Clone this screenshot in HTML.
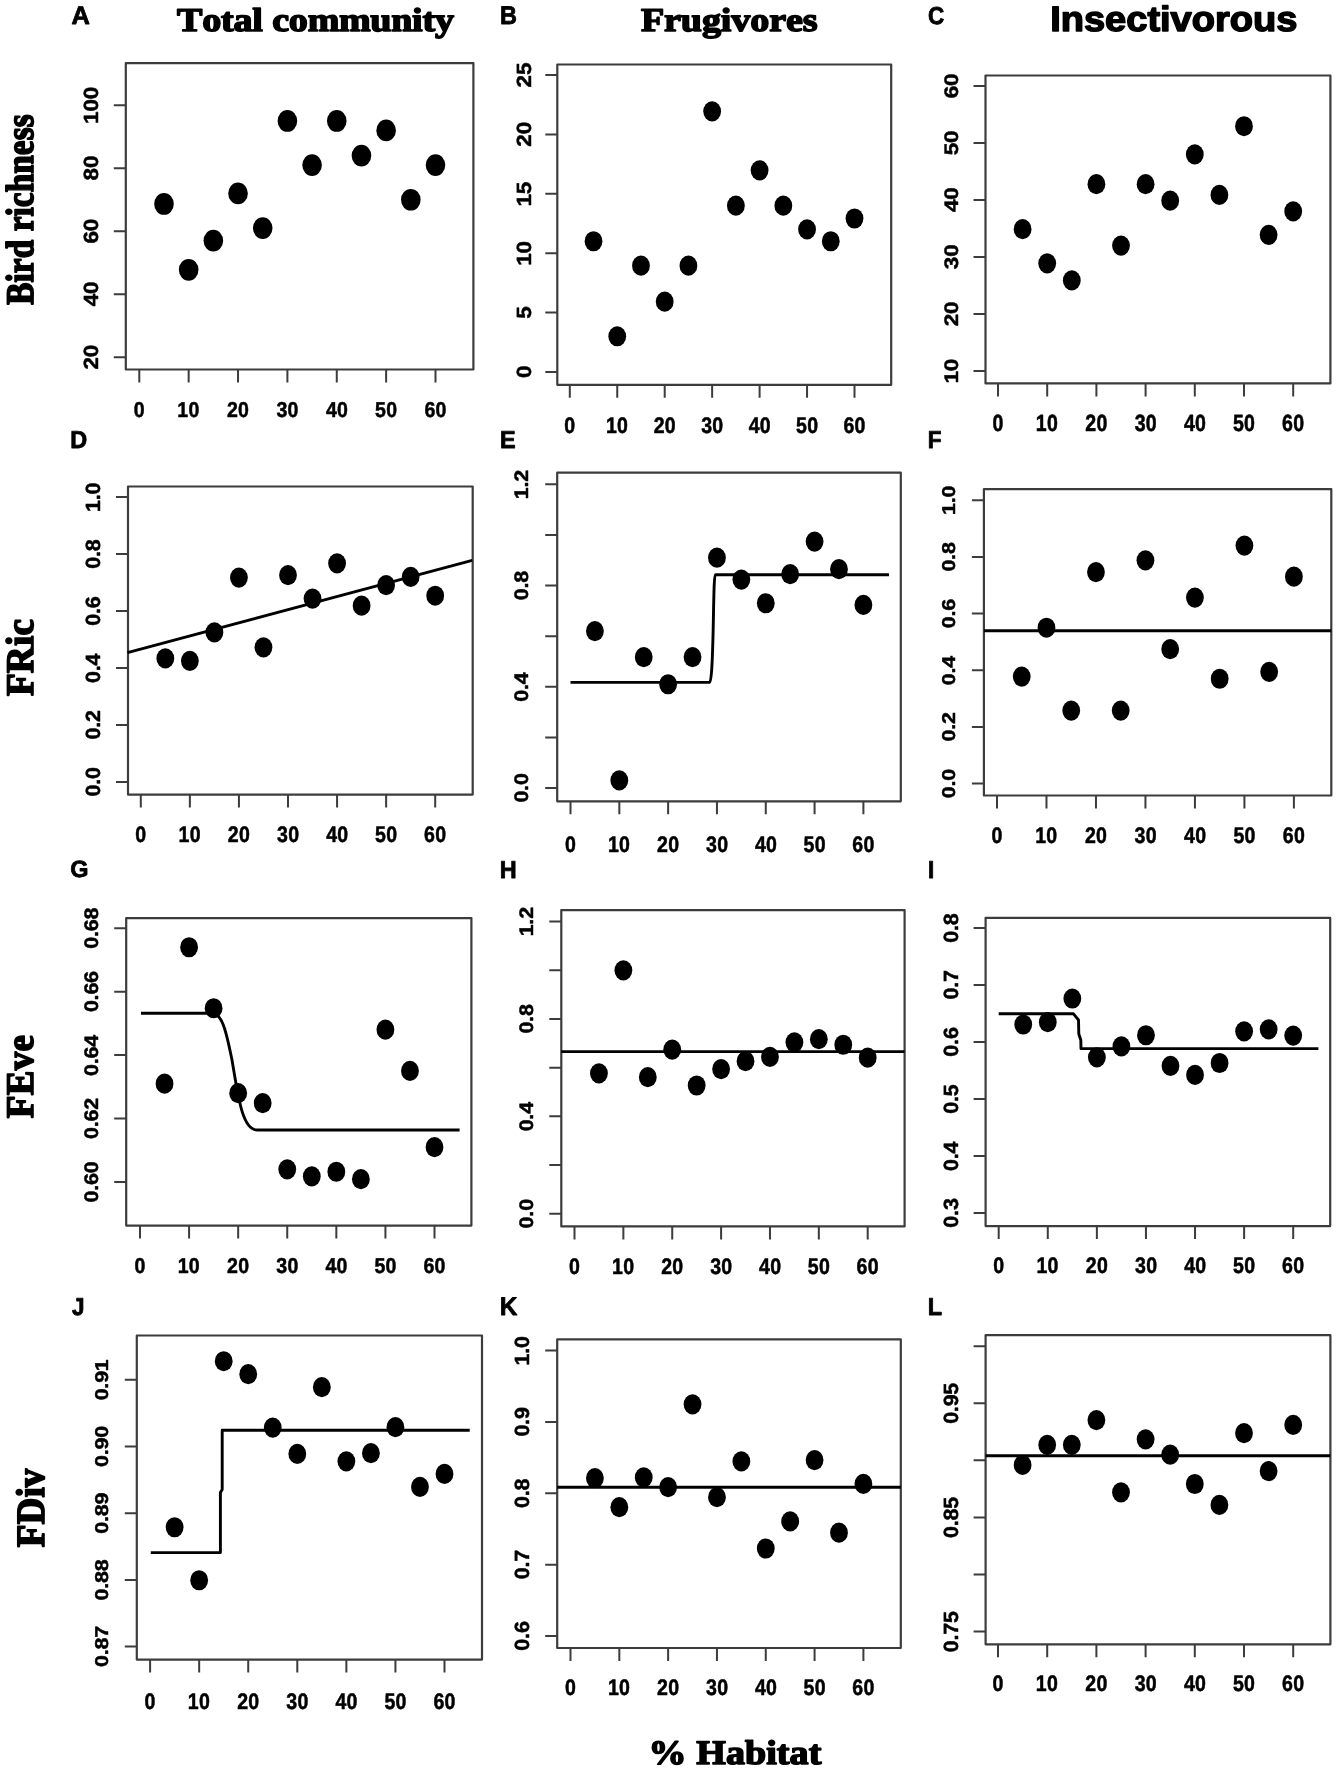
<!DOCTYPE html>
<html><head><meta charset="utf-8"><title>Figure</title>
<style>
html,body{margin:0;padding:0;background:#fff;overflow:hidden;}
svg{display:block;will-change:transform;}
.sansb{font-family:"Liberation Sans",sans-serif;font-weight:bold;font-size:1000px;fill:#000;font-kerning:none;text-rendering:geometricPrecision;}
.serifb{font-family:"Liberation Serif",serif;font-weight:bold;font-size:1000px;fill:#000;font-kerning:none;text-rendering:geometricPrecision;}
.box{fill:none;stroke:#3c3c3c;stroke-width:2.2;stroke-linejoin:round;}
.tk{fill:none;stroke:#3c3c3c;stroke-width:2;}
.ln{fill:none;stroke:#000;stroke-width:2.9;stroke-linejoin:round;}
ellipse{fill:#000;}
</style></head>
<body>
<svg width="1337" height="1772" viewBox="0 0 1337 1772">
<rect width="1337" height="1772" fill="#fff"/>
<rect x="125.8" y="63.1" width="347.60" height="306.40" class="box"/>
<text transform="matrix(0.02000 0 0 0.02189 133.75 416.54)" class="sansb" stroke="#000" stroke-width="23.90" stroke-linejoin="round">0</text>
<text transform="matrix(0.02000 0 0 0.02189 177.32 416.54)" class="sansb" stroke="#000" stroke-width="23.90" stroke-linejoin="round">10</text>
<text transform="matrix(0.02000 0 0 0.02189 226.97 416.54)" class="sansb" stroke="#000" stroke-width="23.90" stroke-linejoin="round">20</text>
<text transform="matrix(0.02000 0 0 0.02189 276.46 416.54)" class="sansb" stroke="#000" stroke-width="23.90" stroke-linejoin="round">30</text>
<text transform="matrix(0.02000 0 0 0.02189 325.90 416.54)" class="sansb" stroke="#000" stroke-width="23.90" stroke-linejoin="round">40</text>
<text transform="matrix(0.02000 0 0 0.02189 375.11 416.54)" class="sansb" stroke="#000" stroke-width="23.90" stroke-linejoin="round">50</text>
<text transform="matrix(0.02000 0 0 0.02189 424.42 416.54)" class="sansb" stroke="#000" stroke-width="23.90" stroke-linejoin="round">60</text>
<text transform="matrix(0 -0.02220 0.02006 0 97.85 369.58)" class="sansb" stroke="#000" stroke-width="23.70" stroke-linejoin="round">20</text>
<text transform="matrix(0 -0.02220 0.02006 0 97.85 306.33)" class="sansb" stroke="#000" stroke-width="23.70" stroke-linejoin="round">40</text>
<text transform="matrix(0 -0.02220 0.02006 0 97.85 243.55)" class="sansb" stroke="#000" stroke-width="23.70" stroke-linejoin="round">60</text>
<text transform="matrix(0 -0.02220 0.02006 0 97.85 180.47)" class="sansb" stroke="#000" stroke-width="23.70" stroke-linejoin="round">80</text>
<text transform="matrix(0 -0.02220 0.02006 0 97.85 123.96)" class="sansb" stroke="#000" stroke-width="23.70" stroke-linejoin="round">100</text>
<path d="M139.30,369.50V382.50 M188.67,369.50V382.50 M238.03,369.50V382.50 M287.40,369.50V382.50 M336.77,369.50V382.50 M386.13,369.50V382.50 M435.50,369.50V382.50 M113.80,357.30H125.80 M113.80,294.28H125.80 M113.80,231.25H125.80 M113.80,168.22H125.80 M113.80,105.20H125.80" class="tk"/>
<ellipse cx="163.98" cy="203.97" rx="9.8" ry="10.85"/>
<ellipse cx="188.67" cy="269.78" rx="9.8" ry="10.85"/>
<ellipse cx="213.35" cy="240.70" rx="9.8" ry="10.85"/>
<ellipse cx="238.03" cy="193.44" rx="9.8" ry="10.85"/>
<ellipse cx="262.72" cy="228.10" rx="9.8" ry="10.85"/>
<ellipse cx="287.40" cy="120.96" rx="9.8" ry="10.85"/>
<ellipse cx="312.08" cy="165.07" rx="9.8" ry="10.85"/>
<ellipse cx="336.77" cy="120.96" rx="9.8" ry="10.85"/>
<ellipse cx="361.45" cy="155.62" rx="9.8" ry="10.85"/>
<ellipse cx="386.13" cy="130.41" rx="9.8" ry="10.85"/>
<ellipse cx="410.82" cy="199.74" rx="9.8" ry="10.85"/>
<ellipse cx="435.50" cy="165.07" rx="9.8" ry="10.85"/>
<text transform="matrix(0.02504 0 0 0.02500 71.48 23.60)" class="sansb" stroke="#000" stroke-width="31.97" stroke-linejoin="round">A</text>
<rect x="557.3" y="64.5" width="333.90" height="320.30" class="box"/>
<text transform="matrix(0.02000 0 0 0.02203 564.25 433.43)" class="sansb" stroke="#000" stroke-width="23.82" stroke-linejoin="round">0</text>
<text transform="matrix(0.02000 0 0 0.02203 605.91 433.43)" class="sansb" stroke="#000" stroke-width="23.82" stroke-linejoin="round">10</text>
<text transform="matrix(0.02000 0 0 0.02203 653.64 433.43)" class="sansb" stroke="#000" stroke-width="23.82" stroke-linejoin="round">20</text>
<text transform="matrix(0.02000 0 0 0.02203 701.21 433.43)" class="sansb" stroke="#000" stroke-width="23.82" stroke-linejoin="round">30</text>
<text transform="matrix(0.02000 0 0 0.02203 748.74 433.43)" class="sansb" stroke="#000" stroke-width="23.82" stroke-linejoin="round">40</text>
<text transform="matrix(0.02000 0 0 0.02203 796.03 433.43)" class="sansb" stroke="#000" stroke-width="23.82" stroke-linejoin="round">50</text>
<text transform="matrix(0.02000 0 0 0.02203 843.42 433.43)" class="sansb" stroke="#000" stroke-width="23.82" stroke-linejoin="round">60</text>
<text transform="matrix(0 -0.02220 0.02006 0 530.85 378.06)" class="sansb" stroke="#000" stroke-width="23.70" stroke-linejoin="round">0</text>
<text transform="matrix(0 -0.02220 0.02006 0 530.85 318.73)" class="sansb" stroke="#000" stroke-width="23.70" stroke-linejoin="round">5</text>
<text transform="matrix(0 -0.02220 0.02006 0 530.85 265.73)" class="sansb" stroke="#000" stroke-width="23.70" stroke-linejoin="round">10</text>
<text transform="matrix(0 -0.02220 0.02006 0 530.85 206.50)" class="sansb" stroke="#000" stroke-width="23.70" stroke-linejoin="round">15</text>
<text transform="matrix(0 -0.02220 0.02006 0 530.85 146.66)" class="sansb" stroke="#000" stroke-width="23.70" stroke-linejoin="round">20</text>
<text transform="matrix(0 -0.02220 0.02006 0 530.85 87.42)" class="sansb" stroke="#000" stroke-width="23.70" stroke-linejoin="round">25</text>
<path d="M569.80,384.80V397.80 M617.25,384.80V397.80 M664.70,384.80V397.80 M712.15,384.80V397.80 M759.60,384.80V397.80 M807.05,384.80V397.80 M854.50,384.80V397.80 M545.30,371.90H557.30 M545.30,312.52H557.30 M545.30,253.14H557.30 M545.30,193.76H557.30 M545.30,134.38H557.30 M545.30,75.00H557.30" class="tk"/>
<ellipse cx="593.52" cy="241.26" rx="8.9" ry="10.1"/>
<ellipse cx="617.25" cy="336.27" rx="8.9" ry="10.1"/>
<ellipse cx="640.97" cy="265.67" rx="8.9" ry="10.1"/>
<ellipse cx="664.70" cy="301.63" rx="8.9" ry="10.1"/>
<ellipse cx="688.42" cy="265.67" rx="8.9" ry="10.1"/>
<ellipse cx="712.15" cy="111.29" rx="8.9" ry="10.1"/>
<ellipse cx="735.88" cy="205.64" rx="8.9" ry="10.1"/>
<ellipse cx="759.60" cy="170.34" rx="8.9" ry="10.1"/>
<ellipse cx="783.33" cy="205.64" rx="8.9" ry="10.1"/>
<ellipse cx="807.05" cy="229.39" rx="8.9" ry="10.1"/>
<ellipse cx="830.77" cy="241.26" rx="8.9" ry="10.1"/>
<ellipse cx="854.50" cy="218.50" rx="8.9" ry="10.1"/>
<text transform="matrix(0.02361 0 0 0.02529 499.92 23.80)" class="sansb" stroke="#000" stroke-width="32.74" stroke-linejoin="round">B</text>
<rect x="985.5" y="75.5" width="344.90" height="307.90" class="box"/>
<text transform="matrix(0.02000 0 0 0.02302 992.45 431.13)" class="sansb" stroke="#000" stroke-width="23.30" stroke-linejoin="round">0</text>
<text transform="matrix(0.02000 0 0 0.02302 1035.86 431.13)" class="sansb" stroke="#000" stroke-width="23.30" stroke-linejoin="round">10</text>
<text transform="matrix(0.02000 0 0 0.02302 1085.34 431.13)" class="sansb" stroke="#000" stroke-width="23.30" stroke-linejoin="round">20</text>
<text transform="matrix(0.02000 0 0 0.02302 1134.66 431.13)" class="sansb" stroke="#000" stroke-width="23.30" stroke-linejoin="round">30</text>
<text transform="matrix(0.02000 0 0 0.02302 1183.94 431.13)" class="sansb" stroke="#000" stroke-width="23.30" stroke-linejoin="round">40</text>
<text transform="matrix(0.02000 0 0 0.02302 1232.98 431.13)" class="sansb" stroke="#000" stroke-width="23.30" stroke-linejoin="round">50</text>
<text transform="matrix(0.02000 0 0 0.02302 1282.12 431.13)" class="sansb" stroke="#000" stroke-width="23.30" stroke-linejoin="round">60</text>
<text transform="matrix(0 -0.02220 0.01921 0 957.86 383.59)" class="sansb" stroke="#000" stroke-width="24.21" stroke-linejoin="round">10</text>
<text transform="matrix(0 -0.02220 0.01921 0 957.86 326.28)" class="sansb" stroke="#000" stroke-width="24.21" stroke-linejoin="round">20</text>
<text transform="matrix(0 -0.02220 0.01921 0 957.86 269.15)" class="sansb" stroke="#000" stroke-width="24.21" stroke-linejoin="round">30</text>
<text transform="matrix(0 -0.02220 0.01921 0 957.86 212.06)" class="sansb" stroke="#000" stroke-width="24.21" stroke-linejoin="round">40</text>
<text transform="matrix(0 -0.02220 0.01921 0 957.86 155.23)" class="sansb" stroke="#000" stroke-width="24.21" stroke-linejoin="round">50</text>
<text transform="matrix(0 -0.02220 0.01921 0 957.86 98.30)" class="sansb" stroke="#000" stroke-width="24.21" stroke-linejoin="round">60</text>
<path d="M998.00,383.40V396.40 M1047.20,383.40V396.40 M1096.40,383.40V396.40 M1145.60,383.40V396.40 M1194.80,383.40V396.40 M1244.00,383.40V396.40 M1293.20,383.40V396.40 M973.50,371.00H985.50 M973.50,314.00H985.50 M973.50,257.00H985.50 M973.50,200.00H985.50 M973.50,143.00H985.50 M973.50,86.00H985.50" class="tk"/>
<ellipse cx="1022.60" cy="229.15" rx="8.9" ry="10.1"/>
<ellipse cx="1047.20" cy="263.35" rx="8.9" ry="10.1"/>
<ellipse cx="1071.80" cy="280.45" rx="8.9" ry="10.1"/>
<ellipse cx="1096.40" cy="184.21" rx="8.9" ry="10.1"/>
<ellipse cx="1121.00" cy="245.60" rx="8.9" ry="10.1"/>
<ellipse cx="1145.60" cy="184.21" rx="8.9" ry="10.1"/>
<ellipse cx="1170.20" cy="200.65" rx="8.9" ry="10.1"/>
<ellipse cx="1194.80" cy="154.40" rx="8.9" ry="10.1"/>
<ellipse cx="1219.40" cy="194.95" rx="8.9" ry="10.1"/>
<ellipse cx="1244.00" cy="126.23" rx="8.9" ry="10.1"/>
<ellipse cx="1268.60" cy="234.85" rx="8.9" ry="10.1"/>
<ellipse cx="1293.20" cy="211.40" rx="8.9" ry="10.1"/>
<text transform="matrix(0.02264 0 0 0.02427 928.07 23.60)" class="sansb" stroke="#000" stroke-width="34.13" stroke-linejoin="round">C</text>
<rect x="128.0" y="486.5" width="344.70" height="308.10" class="box"/>
<text transform="matrix(0.02000 0 0 0.02288 135.25 841.63)" class="sansb" stroke="#000" stroke-width="23.37" stroke-linejoin="round">0</text>
<text transform="matrix(0.02000 0 0 0.02288 178.52 841.63)" class="sansb" stroke="#000" stroke-width="23.37" stroke-linejoin="round">10</text>
<text transform="matrix(0.02000 0 0 0.02288 227.87 841.63)" class="sansb" stroke="#000" stroke-width="23.37" stroke-linejoin="round">20</text>
<text transform="matrix(0.02000 0 0 0.02288 277.06 841.63)" class="sansb" stroke="#000" stroke-width="23.37" stroke-linejoin="round">30</text>
<text transform="matrix(0.02000 0 0 0.02288 326.20 841.63)" class="sansb" stroke="#000" stroke-width="23.37" stroke-linejoin="round">40</text>
<text transform="matrix(0.02000 0 0 0.02288 375.11 841.63)" class="sansb" stroke="#000" stroke-width="23.37" stroke-linejoin="round">50</text>
<text transform="matrix(0.02000 0 0 0.02288 424.12 841.63)" class="sansb" stroke="#000" stroke-width="23.37" stroke-linejoin="round">60</text>
<text transform="matrix(0 -0.02100 0.02006 0 99.65 796.48)" class="sansb" stroke="#000" stroke-width="24.36" stroke-linejoin="round">0.0</text>
<text transform="matrix(0 -0.02100 0.02006 0 99.65 739.53)" class="sansb" stroke="#000" stroke-width="24.36" stroke-linejoin="round">0.2</text>
<text transform="matrix(0 -0.02100 0.02006 0 99.65 682.94)" class="sansb" stroke="#000" stroke-width="24.36" stroke-linejoin="round">0.4</text>
<text transform="matrix(0 -0.02100 0.02006 0 99.65 625.65)" class="sansb" stroke="#000" stroke-width="24.36" stroke-linejoin="round">0.6</text>
<text transform="matrix(0 -0.02100 0.02006 0 99.65 568.75)" class="sansb" stroke="#000" stroke-width="24.36" stroke-linejoin="round">0.8</text>
<text transform="matrix(0 -0.02100 0.02006 0 99.65 511.93)" class="sansb" stroke="#000" stroke-width="24.36" stroke-linejoin="round">1.0</text>
<path d="M140.80,794.60V807.60 M189.87,794.60V807.60 M238.93,794.60V807.60 M288.00,794.60V807.60 M337.07,794.60V807.60 M386.13,794.60V807.60 M435.20,794.60V807.60 M116.00,781.90H128.00 M116.00,724.94H128.00 M116.00,667.98H128.00 M116.00,611.02H128.00 M116.00,554.06H128.00 M116.00,497.10H128.00" class="tk"/>
<path d="M127.5,652.6 L472.2,560.3" class="ln"/>
<ellipse cx="165.33" cy="658.38" rx="8.9" ry="10.1"/>
<ellipse cx="189.87" cy="660.87" rx="8.9" ry="10.1"/>
<ellipse cx="214.40" cy="632.39" rx="8.9" ry="10.1"/>
<ellipse cx="238.93" cy="577.56" rx="8.9" ry="10.1"/>
<ellipse cx="263.47" cy="647.35" rx="8.9" ry="10.1"/>
<ellipse cx="288.00" cy="575.07" rx="8.9" ry="10.1"/>
<ellipse cx="312.53" cy="598.58" rx="8.9" ry="10.1"/>
<ellipse cx="337.07" cy="563.32" rx="8.9" ry="10.1"/>
<ellipse cx="361.60" cy="605.68" rx="8.9" ry="10.1"/>
<ellipse cx="386.13" cy="585.05" rx="8.9" ry="10.1"/>
<ellipse cx="410.67" cy="576.84" rx="8.9" ry="10.1"/>
<ellipse cx="435.20" cy="595.73" rx="8.9" ry="10.1"/>
<text transform="matrix(0.02348 0 0 0.02398 70.23 447.60)" class="sansb" stroke="#000" stroke-width="33.71" stroke-linejoin="round">D</text>
<rect x="557.2" y="472.6" width="343.60" height="328.70" class="box"/>
<text transform="matrix(0.02000 0 0 0.02288 564.95 851.63)" class="sansb" stroke="#000" stroke-width="23.37" stroke-linejoin="round">0</text>
<text transform="matrix(0.02000 0 0 0.02288 607.97 851.63)" class="sansb" stroke="#000" stroke-width="23.37" stroke-linejoin="round">10</text>
<text transform="matrix(0.02000 0 0 0.02288 657.07 851.63)" class="sansb" stroke="#000" stroke-width="23.37" stroke-linejoin="round">20</text>
<text transform="matrix(0.02000 0 0 0.02288 706.01 851.63)" class="sansb" stroke="#000" stroke-width="23.37" stroke-linejoin="round">30</text>
<text transform="matrix(0.02000 0 0 0.02288 754.90 851.63)" class="sansb" stroke="#000" stroke-width="23.37" stroke-linejoin="round">40</text>
<text transform="matrix(0.02000 0 0 0.02288 803.56 851.63)" class="sansb" stroke="#000" stroke-width="23.37" stroke-linejoin="round">50</text>
<text transform="matrix(0.02000 0 0 0.02288 852.32 851.63)" class="sansb" stroke="#000" stroke-width="23.37" stroke-linejoin="round">60</text>
<text transform="matrix(0 -0.02100 0.01921 0 528.46 802.58)" class="sansb" stroke="#000" stroke-width="24.89" stroke-linejoin="round">0.0</text>
<text transform="matrix(0 -0.02100 0.01921 0 528.46 701.72)" class="sansb" stroke="#000" stroke-width="24.89" stroke-linejoin="round">0.4</text>
<text transform="matrix(0 -0.02100 0.01921 0 528.46 600.22)" class="sansb" stroke="#000" stroke-width="24.89" stroke-linejoin="round">0.8</text>
<text transform="matrix(0 -0.02100 0.01921 0 528.46 499.14)" class="sansb" stroke="#000" stroke-width="24.89" stroke-linejoin="round">1.2</text>
<path d="M570.50,801.30V814.30 M619.32,801.30V814.30 M668.13,801.30V814.30 M716.95,801.30V814.30 M765.77,801.30V814.30 M814.58,801.30V814.30 M863.40,801.30V814.30 M545.20,788.00H557.20 M545.20,737.38H557.20 M545.20,686.77H557.20 M545.20,636.15H557.20 M545.20,585.53H557.20 M545.20,534.92H557.20 M545.20,484.30H557.20" class="tk"/>
<path d="M570.5,682.4 L709.7,682.4 C711.5,682.4 712.5,660 713.2,628 C713.8,600 714,574.8 715.3,574.8 L889,574.8" class="ln"/>
<ellipse cx="594.91" cy="631.09" rx="8.9" ry="10.1"/>
<ellipse cx="619.32" cy="780.41" rx="8.9" ry="10.1"/>
<ellipse cx="643.73" cy="657.05" rx="8.9" ry="10.1"/>
<ellipse cx="668.13" cy="684.24" rx="8.9" ry="10.1"/>
<ellipse cx="692.54" cy="657.05" rx="8.9" ry="10.1"/>
<ellipse cx="716.95" cy="557.69" rx="8.9" ry="10.1"/>
<ellipse cx="741.36" cy="579.59" rx="8.9" ry="10.1"/>
<ellipse cx="765.77" cy="603.25" rx="8.9" ry="10.1"/>
<ellipse cx="790.17" cy="574.20" rx="8.9" ry="10.1"/>
<ellipse cx="814.58" cy="541.62" rx="8.9" ry="10.1"/>
<ellipse cx="838.99" cy="569.13" rx="8.9" ry="10.1"/>
<ellipse cx="863.40" cy="604.89" rx="8.9" ry="10.1"/>
<text transform="matrix(0.02299 0 0 0.02398 499.96 447.60)" class="sansb" stroke="#000" stroke-width="34.07" stroke-linejoin="round">E</text>
<rect x="983.9" y="489.2" width="347.40" height="306.30" class="box"/>
<text transform="matrix(0.02000 0 0 0.02288 991.45 842.83)" class="sansb" stroke="#000" stroke-width="23.37" stroke-linejoin="round">0</text>
<text transform="matrix(0.02000 0 0 0.02288 1035.14 842.83)" class="sansb" stroke="#000" stroke-width="23.37" stroke-linejoin="round">10</text>
<text transform="matrix(0.02000 0 0 0.02288 1084.91 842.83)" class="sansb" stroke="#000" stroke-width="23.37" stroke-linejoin="round">20</text>
<text transform="matrix(0.02000 0 0 0.02288 1134.51 842.83)" class="sansb" stroke="#000" stroke-width="23.37" stroke-linejoin="round">30</text>
<text transform="matrix(0.02000 0 0 0.02288 1184.07 842.83)" class="sansb" stroke="#000" stroke-width="23.37" stroke-linejoin="round">40</text>
<text transform="matrix(0.02000 0 0 0.02288 1233.40 842.83)" class="sansb" stroke="#000" stroke-width="23.37" stroke-linejoin="round">50</text>
<text transform="matrix(0.02000 0 0 0.02288 1282.82 842.83)" class="sansb" stroke="#000" stroke-width="23.37" stroke-linejoin="round">60</text>
<text transform="matrix(0 -0.02100 0.01836 0 954.87 798.18)" class="sansb" stroke="#000" stroke-width="25.46" stroke-linejoin="round">0.0</text>
<text transform="matrix(0 -0.02100 0.01836 0 954.87 741.51)" class="sansb" stroke="#000" stroke-width="25.46" stroke-linejoin="round">0.2</text>
<text transform="matrix(0 -0.02100 0.01836 0 954.87 685.20)" class="sansb" stroke="#000" stroke-width="25.46" stroke-linejoin="round">0.4</text>
<text transform="matrix(0 -0.02100 0.01836 0 954.87 628.19)" class="sansb" stroke="#000" stroke-width="25.46" stroke-linejoin="round">0.6</text>
<text transform="matrix(0 -0.02100 0.01836 0 954.87 571.57)" class="sansb" stroke="#000" stroke-width="25.46" stroke-linejoin="round">0.8</text>
<text transform="matrix(0 -0.02100 0.01836 0 954.87 515.03)" class="sansb" stroke="#000" stroke-width="25.46" stroke-linejoin="round">1.0</text>
<path d="M997.00,795.50V808.50 M1046.48,795.50V808.50 M1095.97,795.50V808.50 M1145.45,795.50V808.50 M1194.93,795.50V808.50 M1244.42,795.50V808.50 M1293.90,795.50V808.50 M971.90,783.60H983.90 M971.90,726.92H983.90 M971.90,670.24H983.90 M971.90,613.56H983.90 M971.90,556.88H983.90 M971.90,500.20H983.90" class="tk"/>
<path d="M984,630.7 L1331.3,630.7" class="ln"/>
<ellipse cx="1021.74" cy="676.56" rx="8.9" ry="10.1"/>
<ellipse cx="1046.48" cy="627.73" rx="8.9" ry="10.1"/>
<ellipse cx="1071.23" cy="710.57" rx="8.9" ry="10.1"/>
<ellipse cx="1095.97" cy="572.03" rx="8.9" ry="10.1"/>
<ellipse cx="1120.71" cy="710.57" rx="8.9" ry="10.1"/>
<ellipse cx="1145.45" cy="560.37" rx="8.9" ry="10.1"/>
<ellipse cx="1170.19" cy="649.09" rx="8.9" ry="10.1"/>
<ellipse cx="1194.93" cy="597.54" rx="8.9" ry="10.1"/>
<ellipse cx="1219.68" cy="678.74" rx="8.9" ry="10.1"/>
<ellipse cx="1244.42" cy="545.54" rx="8.9" ry="10.1"/>
<ellipse cx="1269.16" cy="671.87" rx="8.9" ry="10.1"/>
<ellipse cx="1293.90" cy="576.72" rx="8.9" ry="10.1"/>
<text transform="matrix(0.02287 0 0 0.02398 927.87 447.60)" class="sansb" stroke="#000" stroke-width="34.16" stroke-linejoin="round">F</text>
<rect x="126.2" y="918.1" width="345.20" height="307.50" class="box"/>
<text transform="matrix(0.02000 0 0 0.02133 134.45 1272.64)" class="sansb" stroke="#000" stroke-width="24.21" stroke-linejoin="round">0</text>
<text transform="matrix(0.02000 0 0 0.02133 177.74 1272.64)" class="sansb" stroke="#000" stroke-width="24.21" stroke-linejoin="round">10</text>
<text transform="matrix(0.02000 0 0 0.02133 227.11 1272.64)" class="sansb" stroke="#000" stroke-width="24.21" stroke-linejoin="round">20</text>
<text transform="matrix(0.02000 0 0 0.02133 276.31 1272.64)" class="sansb" stroke="#000" stroke-width="24.21" stroke-linejoin="round">30</text>
<text transform="matrix(0.02000 0 0 0.02133 325.47 1272.64)" class="sansb" stroke="#000" stroke-width="24.21" stroke-linejoin="round">40</text>
<text transform="matrix(0.02000 0 0 0.02133 374.40 1272.64)" class="sansb" stroke="#000" stroke-width="24.21" stroke-linejoin="round">50</text>
<text transform="matrix(0.02000 0 0 0.02133 423.42 1272.64)" class="sansb" stroke="#000" stroke-width="24.21" stroke-linejoin="round">60</text>
<text transform="matrix(0 -0.02100 0.01921 0 98.46 1202.42)" class="sansb" stroke="#000" stroke-width="24.89" stroke-linejoin="round">0.60</text>
<text transform="matrix(0 -0.02100 0.01921 0 98.46 1138.98)" class="sansb" stroke="#000" stroke-width="24.89" stroke-linejoin="round">0.62</text>
<text transform="matrix(0 -0.02100 0.01921 0 98.46 1075.89)" class="sansb" stroke="#000" stroke-width="24.89" stroke-linejoin="round">0.64</text>
<text transform="matrix(0 -0.02100 0.01921 0 98.46 1012.12)" class="sansb" stroke="#000" stroke-width="24.89" stroke-linejoin="round">0.66</text>
<text transform="matrix(0 -0.02100 0.01921 0 98.46 948.73)" class="sansb" stroke="#000" stroke-width="24.89" stroke-linejoin="round">0.68</text>
<path d="M140.00,1225.60V1238.60 M189.08,1225.60V1238.60 M238.17,1225.60V1238.60 M287.25,1225.60V1238.60 M336.33,1225.60V1238.60 M385.42,1225.60V1238.60 M434.50,1225.60V1238.60 M114.20,1182.00H126.20 M114.20,1118.55H126.20 M114.20,1055.10H126.20 M114.20,991.65H126.20 M114.20,928.20H126.20" class="tk"/>
<path d="M141,1013.3 L212,1013.3 C222,1013.3 226,1030 232,1060 C238,1095 242,1130 257,1130 L459.6,1130" class="ln"/>
<ellipse cx="164.54" cy="1083.65" rx="8.9" ry="10.1"/>
<ellipse cx="189.08" cy="947.24" rx="8.9" ry="10.1"/>
<ellipse cx="213.62" cy="1008.23" rx="8.9" ry="10.1"/>
<ellipse cx="238.17" cy="1093.17" rx="8.9" ry="10.1"/>
<ellipse cx="262.71" cy="1103.05" rx="8.9" ry="10.1"/>
<ellipse cx="287.25" cy="1169.31" rx="8.9" ry="10.1"/>
<ellipse cx="311.79" cy="1176.37" rx="8.9" ry="10.1"/>
<ellipse cx="336.33" cy="1171.76" rx="8.9" ry="10.1"/>
<ellipse cx="360.88" cy="1179.19" rx="8.9" ry="10.1"/>
<ellipse cx="385.42" cy="1029.72" rx="8.9" ry="10.1"/>
<ellipse cx="409.96" cy="1070.96" rx="8.9" ry="10.1"/>
<ellipse cx="434.50" cy="1147.10" rx="8.9" ry="10.1"/>
<text transform="matrix(0.02371 0 0 0.02340 70.23 877.10)" class="sansb" stroke="#000" stroke-width="33.96" stroke-linejoin="round">G</text>
<rect x="561.3" y="910.1" width="343.30" height="316.30" class="box"/>
<text transform="matrix(0.02000 0 0 0.02203 568.95 1274.03)" class="sansb" stroke="#000" stroke-width="23.82" stroke-linejoin="round">0</text>
<text transform="matrix(0.02000 0 0 0.02203 612.02 1274.03)" class="sansb" stroke="#000" stroke-width="23.82" stroke-linejoin="round">10</text>
<text transform="matrix(0.02000 0 0 0.02203 661.17 1274.03)" class="sansb" stroke="#000" stroke-width="23.82" stroke-linejoin="round">20</text>
<text transform="matrix(0.02000 0 0 0.02203 710.16 1274.03)" class="sansb" stroke="#000" stroke-width="23.82" stroke-linejoin="round">30</text>
<text transform="matrix(0.02000 0 0 0.02203 759.10 1274.03)" class="sansb" stroke="#000" stroke-width="23.82" stroke-linejoin="round">40</text>
<text transform="matrix(0.02000 0 0 0.02203 807.81 1274.03)" class="sansb" stroke="#000" stroke-width="23.82" stroke-linejoin="round">50</text>
<text transform="matrix(0.02000 0 0 0.02203 856.62 1274.03)" class="sansb" stroke="#000" stroke-width="23.82" stroke-linejoin="round">60</text>
<text transform="matrix(0 -0.02100 0.01935 0 532.66 1228.38)" class="sansb" stroke="#000" stroke-width="24.80" stroke-linejoin="round">0.0</text>
<text transform="matrix(0 -0.02100 0.01935 0 532.66 1131.32)" class="sansb" stroke="#000" stroke-width="24.80" stroke-linejoin="round">0.4</text>
<text transform="matrix(0 -0.02100 0.01935 0 532.66 1033.62)" class="sansb" stroke="#000" stroke-width="24.80" stroke-linejoin="round">0.8</text>
<text transform="matrix(0 -0.02100 0.01935 0 532.66 936.34)" class="sansb" stroke="#000" stroke-width="24.80" stroke-linejoin="round">1.2</text>
<path d="M574.50,1226.40V1239.40 M623.37,1226.40V1239.40 M672.23,1226.40V1239.40 M721.10,1226.40V1239.40 M769.97,1226.40V1239.40 M818.83,1226.40V1239.40 M867.70,1226.40V1239.40 M549.30,1213.80H561.30 M549.30,1165.08H561.30 M549.30,1116.37H561.30 M549.30,1067.65H561.30 M549.30,1018.93H561.30 M549.30,970.22H561.30 M549.30,921.50H561.30" class="tk"/>
<path d="M561.3,1051.6 L904.5,1051.6" class="ln"/>
<ellipse cx="598.93" cy="1073.31" rx="8.9" ry="10.1"/>
<ellipse cx="623.37" cy="970.35" rx="8.9" ry="10.1"/>
<ellipse cx="647.80" cy="1077.20" rx="8.9" ry="10.1"/>
<ellipse cx="672.23" cy="1049.61" rx="8.9" ry="10.1"/>
<ellipse cx="696.67" cy="1085.49" rx="8.9" ry="10.1"/>
<ellipse cx="721.10" cy="1069.10" rx="8.9" ry="10.1"/>
<ellipse cx="745.53" cy="1061.13" rx="8.9" ry="10.1"/>
<ellipse cx="769.97" cy="1056.92" rx="8.9" ry="10.1"/>
<ellipse cx="794.40" cy="1042.30" rx="8.9" ry="10.1"/>
<ellipse cx="818.83" cy="1039.21" rx="8.9" ry="10.1"/>
<ellipse cx="843.27" cy="1044.74" rx="8.9" ry="10.1"/>
<ellipse cx="867.70" cy="1057.71" rx="8.9" ry="10.1"/>
<text transform="matrix(0.02364 0 0 0.02442 499.72 877.50)" class="sansb" stroke="#000" stroke-width="33.29" stroke-linejoin="round">H</text>
<rect x="985.6" y="917.8" width="344.60" height="308.30" class="box"/>
<text transform="matrix(0.02000 0 0 0.02203 993.15 1272.83)" class="sansb" stroke="#000" stroke-width="23.82" stroke-linejoin="round">0</text>
<text transform="matrix(0.02000 0 0 0.02203 1036.44 1272.83)" class="sansb" stroke="#000" stroke-width="23.82" stroke-linejoin="round">10</text>
<text transform="matrix(0.02000 0 0 0.02203 1085.81 1272.83)" class="sansb" stroke="#000" stroke-width="23.82" stroke-linejoin="round">20</text>
<text transform="matrix(0.02000 0 0 0.02203 1135.01 1272.83)" class="sansb" stroke="#000" stroke-width="23.82" stroke-linejoin="round">30</text>
<text transform="matrix(0.02000 0 0 0.02203 1184.17 1272.83)" class="sansb" stroke="#000" stroke-width="23.82" stroke-linejoin="round">40</text>
<text transform="matrix(0.02000 0 0 0.02203 1233.10 1272.83)" class="sansb" stroke="#000" stroke-width="23.82" stroke-linejoin="round">50</text>
<text transform="matrix(0.02000 0 0 0.02203 1282.12 1272.83)" class="sansb" stroke="#000" stroke-width="23.82" stroke-linejoin="round">60</text>
<text transform="matrix(0 -0.02100 0.02006 0 957.85 1227.63)" class="sansb" stroke="#000" stroke-width="24.36" stroke-linejoin="round">0.3</text>
<text transform="matrix(0 -0.02100 0.02006 0 957.85 1170.96)" class="sansb" stroke="#000" stroke-width="24.36" stroke-linejoin="round">0.4</text>
<text transform="matrix(0 -0.02100 0.02006 0 957.85 1113.72)" class="sansb" stroke="#000" stroke-width="24.36" stroke-linejoin="round">0.5</text>
<text transform="matrix(0 -0.02100 0.02006 0 957.85 1056.63)" class="sansb" stroke="#000" stroke-width="24.36" stroke-linejoin="round">0.6</text>
<text transform="matrix(0 -0.02100 0.02006 0 957.85 999.55)" class="sansb" stroke="#000" stroke-width="24.36" stroke-linejoin="round">0.7</text>
<text transform="matrix(0 -0.02100 0.02006 0 957.85 942.69)" class="sansb" stroke="#000" stroke-width="24.36" stroke-linejoin="round">0.8</text>
<path d="M998.70,1226.10V1239.10 M1047.78,1226.10V1239.10 M1096.87,1226.10V1239.10 M1145.95,1226.10V1239.10 M1195.03,1226.10V1239.10 M1244.12,1226.10V1239.10 M1293.20,1226.10V1239.10 M973.60,1213.00H985.60 M973.60,1156.00H985.60 M973.60,1099.00H985.60 M973.60,1042.00H985.60 M973.60,985.00H985.60 M973.60,928.00H985.60" class="tk"/>
<path d="M998.7,1013.8 L1073.5,1013.8 L1078.5,1020 L1078.8,1034 L1080.8,1040 L1081,1048.6 L1318.4,1048.6" class="ln"/>
<ellipse cx="1023.24" cy="1024.50" rx="8.9" ry="10.1"/>
<ellipse cx="1047.78" cy="1022.13" rx="8.9" ry="10.1"/>
<ellipse cx="1072.33" cy="998.52" rx="8.9" ry="10.1"/>
<ellipse cx="1096.87" cy="1057.31" rx="8.9" ry="10.1"/>
<ellipse cx="1121.41" cy="1046.40" rx="8.9" ry="10.1"/>
<ellipse cx="1145.95" cy="1035.24" rx="8.9" ry="10.1"/>
<ellipse cx="1170.49" cy="1065.78" rx="8.9" ry="10.1"/>
<ellipse cx="1195.03" cy="1074.90" rx="8.9" ry="10.1"/>
<ellipse cx="1219.58" cy="1063.01" rx="8.9" ry="10.1"/>
<ellipse cx="1244.12" cy="1031.34" rx="8.9" ry="10.1"/>
<ellipse cx="1268.66" cy="1029.30" rx="8.9" ry="10.1"/>
<ellipse cx="1293.20" cy="1035.57" rx="8.9" ry="10.1"/>
<text transform="matrix(0.02222 0 0 0.02442 927.91 877.50)" class="sansb" stroke="#000" stroke-width="34.35" stroke-linejoin="round">I</text>
<rect x="136.8" y="1335.5" width="345.20" height="324.10" class="box"/>
<text transform="matrix(0.02000 0 0 0.02288 144.55 1708.83)" class="sansb" stroke="#000" stroke-width="23.37" stroke-linejoin="round">0</text>
<text transform="matrix(0.02000 0 0 0.02288 187.82 1708.83)" class="sansb" stroke="#000" stroke-width="23.37" stroke-linejoin="round">10</text>
<text transform="matrix(0.02000 0 0 0.02288 237.17 1708.83)" class="sansb" stroke="#000" stroke-width="23.37" stroke-linejoin="round">20</text>
<text transform="matrix(0.02000 0 0 0.02288 286.36 1708.83)" class="sansb" stroke="#000" stroke-width="23.37" stroke-linejoin="round">30</text>
<text transform="matrix(0.02000 0 0 0.02288 335.50 1708.83)" class="sansb" stroke="#000" stroke-width="23.37" stroke-linejoin="round">40</text>
<text transform="matrix(0.02000 0 0 0.02288 384.41 1708.83)" class="sansb" stroke="#000" stroke-width="23.37" stroke-linejoin="round">50</text>
<text transform="matrix(0.02000 0 0 0.02288 433.42 1708.83)" class="sansb" stroke="#000" stroke-width="23.37" stroke-linejoin="round">60</text>
<text transform="matrix(0 -0.02100 0.01836 0 107.87 1666.99)" class="sansb" stroke="#000" stroke-width="25.46" stroke-linejoin="round">0.87</text>
<text transform="matrix(0 -0.02100 0.01836 0 107.87 1600.43)" class="sansb" stroke="#000" stroke-width="25.46" stroke-linejoin="round">0.88</text>
<text transform="matrix(0 -0.02100 0.01836 0 107.87 1533.66)" class="sansb" stroke="#000" stroke-width="25.46" stroke-linejoin="round">0.89</text>
<text transform="matrix(0 -0.02100 0.01836 0 107.87 1466.92)" class="sansb" stroke="#000" stroke-width="25.46" stroke-linejoin="round">0.90</text>
<text transform="matrix(0 -0.02100 0.01836 0 107.87 1400.36)" class="sansb" stroke="#000" stroke-width="25.46" stroke-linejoin="round">0.91</text>
<path d="M150.10,1659.60V1672.60 M199.17,1659.60V1672.60 M248.23,1659.60V1672.60 M297.30,1659.60V1672.60 M346.37,1659.60V1672.60 M395.43,1659.60V1672.60 M444.50,1659.60V1672.60 M124.80,1646.60H136.80 M124.80,1579.90H136.80 M124.80,1513.20H136.80 M124.80,1446.50H136.80 M124.80,1379.80H136.80" class="tk"/>
<path d="M150.8,1552.6 L220.4,1552.6 L220.4,1492.5 L222.2,1489.5 L222.2,1430.2 L469.7,1430.2" class="ln"/>
<ellipse cx="174.63" cy="1527.26" rx="8.9" ry="10.1"/>
<ellipse cx="199.17" cy="1580.26" rx="8.9" ry="10.1"/>
<ellipse cx="223.70" cy="1361.23" rx="8.9" ry="10.1"/>
<ellipse cx="248.23" cy="1374.21" rx="8.9" ry="10.1"/>
<ellipse cx="272.77" cy="1427.57" rx="8.9" ry="10.1"/>
<ellipse cx="297.30" cy="1453.89" rx="8.9" ry="10.1"/>
<ellipse cx="321.83" cy="1387.19" rx="8.9" ry="10.1"/>
<ellipse cx="346.37" cy="1461.28" rx="8.9" ry="10.1"/>
<ellipse cx="370.90" cy="1453.17" rx="8.9" ry="10.1"/>
<ellipse cx="395.43" cy="1427.21" rx="8.9" ry="10.1"/>
<ellipse cx="419.97" cy="1486.88" rx="8.9" ry="10.1"/>
<ellipse cx="444.50" cy="1473.90" rx="8.9" ry="10.1"/>
<text transform="matrix(0.02285 0 0 0.02427 72.05 1314.60)" class="sansb" stroke="#000" stroke-width="33.97" stroke-linejoin="round">J</text>
<rect x="557.2" y="1339.4" width="343.60" height="308.60" class="box"/>
<text transform="matrix(0.02000 0 0 0.02203 564.95 1695.13)" class="sansb" stroke="#000" stroke-width="23.82" stroke-linejoin="round">0</text>
<text transform="matrix(0.02000 0 0 0.02203 607.97 1695.13)" class="sansb" stroke="#000" stroke-width="23.82" stroke-linejoin="round">10</text>
<text transform="matrix(0.02000 0 0 0.02203 657.07 1695.13)" class="sansb" stroke="#000" stroke-width="23.82" stroke-linejoin="round">20</text>
<text transform="matrix(0.02000 0 0 0.02203 706.01 1695.13)" class="sansb" stroke="#000" stroke-width="23.82" stroke-linejoin="round">30</text>
<text transform="matrix(0.02000 0 0 0.02203 754.90 1695.13)" class="sansb" stroke="#000" stroke-width="23.82" stroke-linejoin="round">40</text>
<text transform="matrix(0.02000 0 0 0.02203 803.56 1695.13)" class="sansb" stroke="#000" stroke-width="23.82" stroke-linejoin="round">50</text>
<text transform="matrix(0.02000 0 0 0.02203 852.32 1695.13)" class="sansb" stroke="#000" stroke-width="23.82" stroke-linejoin="round">60</text>
<text transform="matrix(0 -0.02100 0.02034 0 529.05 1650.63)" class="sansb" stroke="#000" stroke-width="24.19" stroke-linejoin="round">0.6</text>
<text transform="matrix(0 -0.02100 0.02034 0 529.05 1579.20)" class="sansb" stroke="#000" stroke-width="24.19" stroke-linejoin="round">0.7</text>
<text transform="matrix(0 -0.02100 0.02034 0 529.05 1507.99)" class="sansb" stroke="#000" stroke-width="24.19" stroke-linejoin="round">0.8</text>
<text transform="matrix(0 -0.02100 0.02034 0 529.05 1436.57)" class="sansb" stroke="#000" stroke-width="24.19" stroke-linejoin="round">0.9</text>
<text transform="matrix(0 -0.02100 0.02034 0 529.05 1365.43)" class="sansb" stroke="#000" stroke-width="24.19" stroke-linejoin="round">1.0</text>
<path d="M570.50,1648.00V1661.00 M619.32,1648.00V1661.00 M668.13,1648.00V1661.00 M716.95,1648.00V1661.00 M765.77,1648.00V1661.00 M814.58,1648.00V1661.00 M863.40,1648.00V1661.00 M545.20,1636.00H557.20 M545.20,1564.65H557.20 M545.20,1493.30H557.20 M545.20,1421.95H557.20 M545.20,1350.60H557.20" class="tk"/>
<path d="M557.2,1487.2 L900.8,1487.2" class="ln"/>
<ellipse cx="594.91" cy="1478.10" rx="8.9" ry="10.1"/>
<ellipse cx="619.32" cy="1507.13" rx="8.9" ry="10.1"/>
<ellipse cx="643.73" cy="1477.44" rx="8.9" ry="10.1"/>
<ellipse cx="668.13" cy="1487.10" rx="8.9" ry="10.1"/>
<ellipse cx="692.54" cy="1404.33" rx="8.9" ry="10.1"/>
<ellipse cx="716.95" cy="1497.14" rx="8.9" ry="10.1"/>
<ellipse cx="741.36" cy="1461.47" rx="8.9" ry="10.1"/>
<ellipse cx="765.77" cy="1548.51" rx="8.9" ry="10.1"/>
<ellipse cx="790.17" cy="1521.29" rx="8.9" ry="10.1"/>
<ellipse cx="814.58" cy="1460.04" rx="8.9" ry="10.1"/>
<ellipse cx="838.99" cy="1532.71" rx="8.9" ry="10.1"/>
<ellipse cx="863.40" cy="1483.91" rx="8.9" ry="10.1"/>
<text transform="matrix(0.02399 0 0 0.02515 499.69 1314.90)" class="sansb" stroke="#000" stroke-width="32.57" stroke-linejoin="round">K</text>
<rect x="985.6" y="1335.1" width="344.80" height="309.20" class="box"/>
<text transform="matrix(0.02000 0 0 0.02217 992.45 1691.13)" class="sansb" stroke="#000" stroke-width="23.74" stroke-linejoin="round">0</text>
<text transform="matrix(0.02000 0 0 0.02217 1035.86 1691.13)" class="sansb" stroke="#000" stroke-width="23.74" stroke-linejoin="round">10</text>
<text transform="matrix(0.02000 0 0 0.02217 1085.34 1691.13)" class="sansb" stroke="#000" stroke-width="23.74" stroke-linejoin="round">20</text>
<text transform="matrix(0.02000 0 0 0.02217 1134.66 1691.13)" class="sansb" stroke="#000" stroke-width="23.74" stroke-linejoin="round">30</text>
<text transform="matrix(0.02000 0 0 0.02217 1183.94 1691.13)" class="sansb" stroke="#000" stroke-width="23.74" stroke-linejoin="round">40</text>
<text transform="matrix(0.02000 0 0 0.02217 1232.98 1691.13)" class="sansb" stroke="#000" stroke-width="23.74" stroke-linejoin="round">50</text>
<text transform="matrix(0.02000 0 0 0.02217 1282.12 1691.13)" class="sansb" stroke="#000" stroke-width="23.74" stroke-linejoin="round">60</text>
<text transform="matrix(0 -0.02100 0.02006 0 957.85 1652.16)" class="sansb" stroke="#000" stroke-width="24.36" stroke-linejoin="round">0.75</text>
<text transform="matrix(0 -0.02100 0.02006 0 957.85 1538.00)" class="sansb" stroke="#000" stroke-width="24.36" stroke-linejoin="round">0.85</text>
<text transform="matrix(0 -0.02100 0.02006 0 957.85 1423.84)" class="sansb" stroke="#000" stroke-width="24.36" stroke-linejoin="round">0.95</text>
<path d="M998.00,1644.30V1657.30 M1047.20,1644.30V1657.30 M1096.40,1644.30V1657.30 M1145.60,1644.30V1657.30 M1194.80,1644.30V1657.30 M1244.00,1644.30V1657.30 M1293.20,1644.30V1657.30 M973.60,1631.60H985.60 M973.60,1574.52H985.60 M973.60,1517.44H985.60 M973.60,1460.36H985.60 M973.60,1403.28H985.60 M973.60,1346.20H985.60" class="tk"/>
<path d="M985.6,1455.8 L1330.4,1455.8" class="ln"/>
<ellipse cx="1022.60" cy="1464.93" rx="8.9" ry="10.1"/>
<ellipse cx="1047.20" cy="1444.87" rx="8.9" ry="10.1"/>
<ellipse cx="1071.80" cy="1444.87" rx="8.9" ry="10.1"/>
<ellipse cx="1096.40" cy="1420.08" rx="8.9" ry="10.1"/>
<ellipse cx="1121.00" cy="1492.33" rx="8.9" ry="10.1"/>
<ellipse cx="1145.60" cy="1439.32" rx="8.9" ry="10.1"/>
<ellipse cx="1170.20" cy="1454.65" rx="8.9" ry="10.1"/>
<ellipse cx="1194.80" cy="1484.01" rx="8.9" ry="10.1"/>
<ellipse cx="1219.40" cy="1504.88" rx="8.9" ry="10.1"/>
<ellipse cx="1244.00" cy="1433.12" rx="8.9" ry="10.1"/>
<ellipse cx="1268.60" cy="1471.12" rx="8.9" ry="10.1"/>
<ellipse cx="1293.20" cy="1424.97" rx="8.9" ry="10.1"/>
<text transform="matrix(0.02377 0 0 0.02413 927.81 1314.70)" class="sansb" stroke="#000" stroke-width="33.40" stroke-linejoin="round">L</text>
<text transform="matrix(0.03760 0 0 0.03345 177.11 30.60)" class="serifb" stroke="#000" stroke-width="45.12" stroke-linejoin="round">Total community</text>
<text transform="matrix(0.03785 0 0 0.03345 640.95 30.60)" class="serifb" stroke="#000" stroke-width="44.97" stroke-linejoin="round">Frugivores</text>
<text transform="matrix(0.03800 0 0 0.03518 1050.21 30.65)" class="sansb" stroke="#000" stroke-width="41.03" stroke-linejoin="round">Insectivorous</text>
<text transform="matrix(0.03818 0 0 0.03421 648.48 1764.20)" class="serifb" stroke="#000" stroke-width="44.27" stroke-linejoin="round">% Habitat</text>
<text transform="matrix(0 -0.03345 0.03879 0 33.00 304.76)" class="serifb" stroke="#000" stroke-width="44.42" stroke-linejoin="round">Bird richness</text>
<text transform="matrix(0 -0.03751 0.03940 0 33.20 696.04)" class="serifb" stroke="#000" stroke-width="41.62" stroke-linejoin="round">FRic</text>
<text transform="matrix(0 -0.03750 0.03955 0 33.10 1118.14)" class="serifb" stroke="#000" stroke-width="41.54" stroke-linejoin="round">FEve</text>
<text transform="matrix(0 -0.03721 0.04001 0 43.90 1547.14)" class="serifb" stroke="#000" stroke-width="41.47" stroke-linejoin="round">FDiv</text>
</svg>
</body></html>
